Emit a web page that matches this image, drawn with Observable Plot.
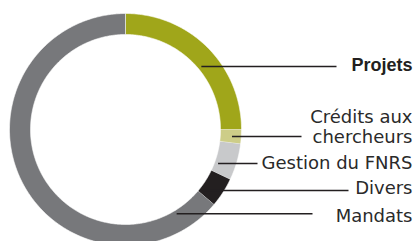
<!DOCTYPE html>
<html>
<head>
<meta charset="utf-8">
<script src="https://cdn.jsdelivr.net/npm/d3@7"></script>
<script src="https://cdn.jsdelivr.net/npm/@observablehq/plot@0.6"></script>
<style>
  html, body { margin: 0; padding: 0; background: #fff; overflow: hidden; }
  #chart svg { display: block; }
</style>
</head>
<body>
<div id="chart"></div>
<script>
// ---- Data ----
const categories = ["Projets", "Crédits aux chercheurs", "Gestion du FNRS", "Divers", "Mandats"];
const labels = ["Projets", "Crédits aux\nchercheurs", "Gestion du FNRS", "Divers", "Mandats"];
const values = [25, 2, 5.1, 4.1, 63.8];
const colors = ["#a0a61a", "#cdcd88", "#c8c9cb", "#231f20", "#77787b"];

// ---- Layout (annotation placement, pixels) ----
const W = 415, H = 241;
const cx = 125, cy = 129, R = 116;          // ring centre and outer radius
const innerR = 95 / 116;                     // inner radius (ring units)
const labelX = 412;
const labelYpx = [65, 126.5, 162, 187, 215];
const leaderYpx = [66, 136, 163, 190, 213.3];
const leaderEndPx = [336, 301, 257, 348, 312];
const leaderR = [0.85, 0.92, 0.85, 0.85, 0.85];

const ux = px => (px - cx) / R;
const uy = py => (cy - py) / R;

// ---- Build arc polygons from the values ----
const total = d3.sum(values);
let acc = 0;
const segs = categories.map((c, i) => {
  const a0 = acc / total * 2 * Math.PI;
  acc += values[i];
  const a1 = acc / total * 2 * Math.PI;
  const n = Math.max(4, Math.ceil((a1 - a0) / 0.01));
  const pts = [];
  for (let k = 0; k <= n; k++) {
    const a = a0 + (a1 - a0) * k / n;
    pts.push({cat: c, x: Math.sin(a), y: Math.cos(a)});
  }
  for (let k = n; k >= 0; k--) {
    const a = a0 + (a1 - a0) * k / n;
    pts.push({cat: c, x: innerR * Math.sin(a), y: innerR * Math.cos(a)});
  }
  return {cat: c, color: colors[i], pts};
});

const leaders = categories.map((c, i) => {
  const yy = uy(leaderYpx[i]);
  const r = leaderR[i];
  return {cat: c, x1: Math.sqrt(Math.max(0, r * r - yy * yy)), y1: yy, x2: ux(leaderEndPx[i]), y2: yy};
});
const labelData = categories.map((c, i) => ({cat: c, text: labels[i], x: ux(labelX), y: uy(labelYpx[i]), bold: i === 0}));

const marks = [
  ...segs.map(s => Plot.line(s.pts, {x: "x", y: "y", fill: s.color, stroke: "#ffffff", strokeWidth: 0.6, curve: "linear"})),
  Plot.link(leaders, {x1: "x1", y1: "y1", x2: "x2", y2: "y2", stroke: "#231f20", strokeWidth: 1.6}),
  Plot.text(labelData.filter(d => !d.bold), {x: "x", y: "y", text: "text", textAnchor: "end", lineHeight: 1.1,
    fill: "#2a2a2a", fontSize: 18, fontFamily: "DejaVu Sans"}),
  Plot.text(labelData.filter(d => d.bold), {x: "x", y: "y", text: "text", textAnchor: "end",
    fill: "#231f20", fontSize: 18, fontWeight: "bold", fontFamily: "Liberation Sans"})
];

const chart = Plot.plot({
  width: W,
  height: H,
  margin: 0,
  x: {domain: [-1, 1], range: [cx - R, cx + R], axis: null},
  y: {domain: [-1, 1], range: [cy + R, cy - R], axis: null},
  style: {background: "#ffffff", overflow: "hidden"},
  marks
});
document.getElementById("chart").appendChild(chart);
</script>
</body>
</html>
